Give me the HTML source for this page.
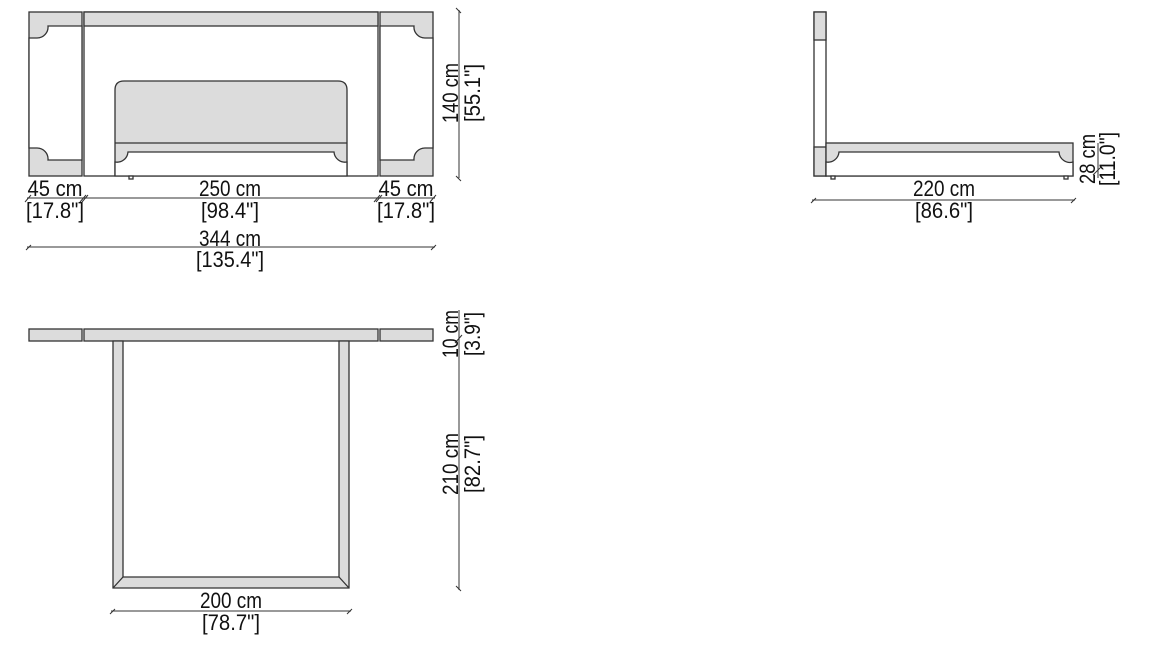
<!DOCTYPE html>
<html><head><meta charset="utf-8"><style>
html,body{margin:0;padding:0;background:#fff;width:1168px;height:650px;overflow:hidden}
svg{display:block}
text{font-family:"Liberation Sans",sans-serif;font-size:22px;fill:#111}
.s{stroke:#333;stroke-width:1.3;fill:none}
.g{fill:#dcdcdc;stroke:#333;stroke-width:1.3}
.w{fill:#fff;stroke:#333;stroke-width:1.3}
.d{stroke:#333;stroke-width:1;fill:none}
</style></head><body>
<svg width="1168" height="650" viewBox="0 0 1168 650">
<rect class="g" x="29" y="12" width="53" height="164"/>
<path class="w" d="M29,38 H37 A11,11 0 0 0 48,26 H82 V160 H48 A11,11 0 0 0 37,148 H29 Z"/>
<rect class="g" x="380" y="12" width="53" height="164"/>
<path class="w" d="M433,38 H425 A11,11 0 0 1 414,26 H380 V160 H414 A11,11 0 0 1 425,148 H433 Z"/>
<rect class="w" x="84" y="12" width="294" height="164"/>
<rect class="g" x="84" y="12" width="294" height="14"/>
<path class="g" d="M115,176 V90 Q115,81 124,81 H338 Q347,81 347,90 V176"/>
<path class="w" d="M115,176 V162 A11,11 0 0 0 128,152 H334 A11,11 0 0 0 347,162 V176 Z"/>
<line class="s" x1="115" y1="143" x2="347" y2="143"/>
<rect class="w" x="129" y="176" width="4" height="3"/>
<line class="d" x1="27" y1="198" x2="435" y2="198"/>
<path class="d" d="M25,202 l6,-7 M80,202 l6,-7 M82,202 l6,-7 M374,202 l6,-7 M376,202 l6,-7 M430,202 l6,-7"/>
<text x="55" y="196" text-anchor="middle" textLength="55" lengthAdjust="spacingAndGlyphs">45 cm</text>
<text x="55" y="218" text-anchor="middle" textLength="58" lengthAdjust="spacingAndGlyphs">[17.8"]</text>
<text x="230" y="196" text-anchor="middle" textLength="62" lengthAdjust="spacingAndGlyphs">250 cm</text>
<text x="230" y="218" text-anchor="middle" textLength="58" lengthAdjust="spacingAndGlyphs">[98.4"]</text>
<text x="406" y="196" text-anchor="middle" textLength="55" lengthAdjust="spacingAndGlyphs">45 cm</text>
<text x="406" y="218" text-anchor="middle" textLength="58" lengthAdjust="spacingAndGlyphs">[17.8"]</text>
<line class="d" x1="27" y1="247" x2="435" y2="247"/>
<path class="d" d="M26,250 l5,-5 M431,250 l5,-5"/>
<text x="230" y="246" text-anchor="middle" textLength="62" lengthAdjust="spacingAndGlyphs">344 cm</text>
<text x="230" y="267" text-anchor="middle" textLength="68" lengthAdjust="spacingAndGlyphs">[135.4"]</text>
<line class="d" x1="459" y1="10" x2="459" y2="178"/>
<path class="d" d="M456,8 l5,5 M456,176 l5,5"/>
<text transform="translate(458,93) rotate(-90)" text-anchor="middle" textLength="60" lengthAdjust="spacingAndGlyphs">140 cm</text>
<text transform="translate(480,93) rotate(-90)" text-anchor="middle" textLength="58" lengthAdjust="spacingAndGlyphs">[55.1"]</text>

<rect class="w" x="814" y="12" width="12" height="164"/>
<rect class="g" x="814" y="12" width="12" height="28"/>
<rect class="g" x="814" y="147" width="12" height="29"/>
<rect class="g" x="826" y="143" width="247" height="33"/>
<path class="w" d="M826,176 V162 A11,11 0 0 0 839,152 H1059 A11,11 0 0 0 1073,162 V176 Z"/>
<rect class="w" x="831" y="176" width="4" height="3"/>
<rect class="w" x="1064" y="176" width="4" height="3"/>
<line class="d" x1="812" y1="200" x2="1075" y2="200"/>
<path class="d" d="M811,203 l5,-5 M1071,203 l5,-5"/>
<text x="944" y="196" text-anchor="middle" textLength="62" lengthAdjust="spacingAndGlyphs">220 cm</text>
<text x="944" y="218" text-anchor="middle" textLength="58" lengthAdjust="spacingAndGlyphs">[86.6"]</text>
<line class="d" x1="1098" y1="143" x2="1098" y2="178"/>
<path class="d" d="M1093,175 l8,-8"/>
<text transform="translate(1095,159) rotate(-90)" text-anchor="middle" textLength="50" lengthAdjust="spacingAndGlyphs">28 cm</text>
<text transform="translate(1115,159) rotate(-90)" text-anchor="middle" textLength="54" lengthAdjust="spacingAndGlyphs">[11.0"]</text>

<rect class="g" x="29" y="329" width="53" height="12"/>
<rect class="g" x="84" y="329" width="294" height="12"/>
<rect class="g" x="380" y="329" width="53" height="12"/>
<path class="g" d="M113,341 H123 V577 H339 V341 H349 V588 H113 Z"/>
<path class="s" d="M113,588 L123,577 M349,588 L339,577"/>
<line class="d" x1="111" y1="611" x2="351" y2="611"/>
<path class="d" d="M110,614 l5,-5 M347,614 l5,-5"/>
<text x="231" y="608" text-anchor="middle" textLength="62" lengthAdjust="spacingAndGlyphs">200 cm</text>
<text x="231" y="630" text-anchor="middle" textLength="58" lengthAdjust="spacingAndGlyphs">[78.7"]</text>
<line class="d" x1="459" y1="310" x2="459" y2="590"/>
<path class="d" d="M456,586 l5,5 M455,343 l7,-8"/>
<text transform="translate(458,334) rotate(-90)" text-anchor="middle" textLength="48" lengthAdjust="spacingAndGlyphs">10 cm</text>
<text transform="translate(480,334) rotate(-90)" text-anchor="middle" textLength="44" lengthAdjust="spacingAndGlyphs">[3.9"]</text>
<text transform="translate(458,464) rotate(-90)" text-anchor="middle" textLength="62" lengthAdjust="spacingAndGlyphs">210 cm</text>
<text transform="translate(480,464) rotate(-90)" text-anchor="middle" textLength="58" lengthAdjust="spacingAndGlyphs">[82.7"]</text>
</svg>
</body></html>
